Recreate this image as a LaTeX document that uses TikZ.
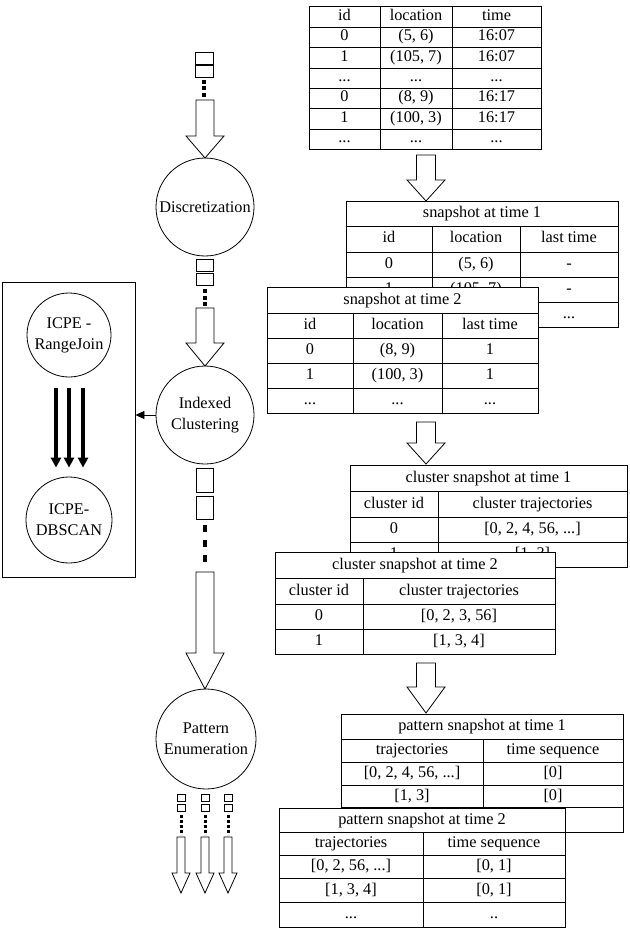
\documentclass[tikz,border=0pt]{standalone}
\usepackage{fontspec}
\setmainfont{Liberation Serif}
\usetikzlibrary{arrows.meta}
\tikzset{
  tline/.style={line width=0.8pt},
  cell/.style={inner sep=0pt, text height=11.5pt, text depth=3.5pt, font=\fontsize{16.3pt}{19pt}\selectfont},
  blk/.style={draw, fill=white, line width=0.8pt, line join=miter},
  proc/.style={draw, circle, line width=0.8pt, align=center, inner sep=0pt, font=\fontsize{16.3pt}{21pt}\selectfont},
  bigarr/.style={line width=4pt, -{Triangle[length=10pt,width=10pt]}},
  tabfill/.style={fill=white, draw, line width=0.8pt}
}
\newcommand{\myblockarrow}[6]{%
  \draw[blk] (#1-#5,#2) -- (#1+#5,#2) -- (#1+#5,#3) -- (#1+#6,#3) -- (#1,#4) -- (#1-#6,#3) -- (#1-#5,#3) -- cycle;}
\newcommand{\mydots}{...}
\newcommand{\mytwodots}{..}
\begin{document}
\begin{tikzpicture}[x=1pt,y=-1pt]
\useasboundingbox (0,0) rectangle (629,933);

% ---------------- left column ----------------
\draw[tline] (195,52) rectangle (213,64);
\draw[tline] (195,65) rectangle (213,77);
\draw[line width=4pt, dash pattern=on 4pt off 2.5pt] (204,80) -- (204,98);
\myblockarrow{205}{100}{136}{158}{9}{19}
\node[proc, minimum size=98pt] (disc) at (205,207) {Discretization};

\draw[tline] (196,259) rectangle (213,271);
\draw[tline] (196,273) rectangle (213,285);
\draw[line width=4pt, dash pattern=on 4pt off 2.5pt] (205,289) -- (205,306);
\myblockarrow{205}{308}{343}{366}{9}{19}
\node[proc, minimum size=98pt] (ic) at (205,415) {Indexed\\Clustering};

\draw[tline] (196,468) rectangle (213,492);
\draw[tline] (196,496) rectangle (213,519);
\draw[line width=4.5pt, dash pattern=on 7pt off 8pt] (205,525) -- (205,565);
\myblockarrow{205}{572}{653}{689}{9}{19}
\node[proc, minimum size=100pt] (pe) at (206,739) {Pattern\\Enumeration};

\foreach \xx in {181,205,228}{
  \draw[tline] (\xx-4,794) rectangle (\xx+4,801);
  \draw[tline] (\xx-4,804) rectangle (\xx+4,811);
  \draw[line width=3pt, dash pattern=on 3pt off 2pt] (\xx,815) -- (\xx,835);
  \myblockarrow{\xx}{837}{873}{893}{4}{9}
}

% ---------------- left box ----------------
\node[draw, tline, minimum width=133pt, minimum height=295pt, inner sep=0pt] (box) at (68.5,429.5) {};
\node[proc, minimum size=84pt] (rj) at (69,335) {ICPE -\\RangeJoin};
\node[proc, minimum size=86pt] (db) at (69,520) {ICPE-\\DBSCAN};
\foreach \dx in {-13,0,14}{
  \draw[bigarr] ([xshift=\dx pt, yshift=-11pt]rj.south) -- ([xshift=\dx pt, yshift=9pt]db.north);
}
\draw[tline, -{Triangle[length=9pt,width=8pt]}] (ic.west) -- (ic.west -| box.east);

% ---------------- table T0 ----------------
\draw[tabfill] (309,6) rectangle (541,149);
\foreach \yy in {27,47,68,88,108,129} \draw[tline] (309,\yy) -- (541,\yy);
\foreach \xx in {380,452} \draw[tline] (\xx,6) -- (\xx,149);
\foreach \yc/\a/\b/\c [count=\i] in {16.5/id/location/time, 37/0/{(5, 6)}/16:07, 57.5/1/{(105, 7)}/16:07, 78/\mydots/\mydots/\mydots, 98/0/{(8, 9)}/16:17, 118.5/1/{(100, 3)}/16:17, 139/\mydots/\mydots/\mydots}{
  \node[cell] (t0-\i-1) at (344.5,\yc) {\a};
  \node[cell] (t0-\i-2) at (416,\yc) {\b};
  \node[cell] (t0-\i-3) at (496.5,\yc) {\c};
}
\myblockarrow{426}{155}{180}{201}{9.5}{19}

% ---------------- snapshot 1 ----------------
\draw[tabfill] (346,201) rectangle (618,327);
\foreach \yy in {226,252,277,302} \draw[tline] (346,\yy) -- (618,\yy);
\foreach \xx in {432,520} \draw[tline] (\xx,226) -- (\xx,327);
\node[cell] (s1-h) at (482,213.5) {snapshot at time 1};
\foreach \yc/\a/\b/\c [count=\i] in {239/id/location/last time, 264.5/0/{(5, 6)}/-, 289.5/1/{(105, 7)}/-, 314.5/\mydots/\mydots/\mydots}{
  \node[cell] (s1-\i-1) at (389,\yc) {\a};
  \node[cell] (s1-\i-2) at (476,\yc) {\b};
  \node[cell] (s1-\i-3) at (569,\yc) {\c};
}
% ---------------- snapshot 2 ----------------
\draw[tabfill] (267,287) rectangle (538,413);
\foreach \yy in {313,338,363,388} \draw[tline] (267,\yy) -- (538,\yy);
\foreach \xx in {353,442} \draw[tline] (\xx,313) -- (\xx,413);
\node[cell] (s2-h) at (402.5,300) {snapshot at time 2};
\foreach \yc/\a/\b/\c [count=\i] in {325.5/id/location/last time, 350.5/0/{(8, 9)}/1, 375.5/1/{(100, 3)}/1, 400.5/\mydots/\mydots/\mydots}{
  \node[cell] (s2-\i-1) at (310,\yc) {\a};
  \node[cell] (s2-\i-2) at (397.5,\yc) {\b};
  \node[cell] (s2-\i-3) at (490,\yc) {\c};
}
\myblockarrow{426}{422}{443}{464}{9.5}{19}

% ---------------- cluster 1 ----------------
\draw[tabfill] (350,465) rectangle (627,567);
\foreach \yy in {491,517,542} \draw[tline] (350,\yy) -- (627,\yy);
\draw[tline] (438,491) -- (438,567);
\node[cell] (c1-h) at (488.5,478) {cluster snapshot at time 1};
\foreach \yc/\a/\b [count=\i] in {504/cluster id/cluster trajectories, 529.5/0/{[0, 2, 4, 56, \mydots]}, 554.5/1/{[1, 3]}}{
  \node[cell] (c1-\i-1) at (394,\yc) {\a};
  \node[cell] (c1-\i-2) at (532.5,\yc) {\b};
}
% ---------------- cluster 2 ----------------
\draw[tabfill] (275,552) rectangle (555,654);
\foreach \yy in {578,604,629} \draw[tline] (275,\yy) -- (555,\yy);
\draw[tline] (363,578) -- (363,654);
\node[cell] (c2-h) at (415,565) {cluster snapshot at time 2};
\foreach \yc/\a/\b [count=\i] in {591/cluster id/cluster trajectories, 616.5/0/{[0, 2, 3, 56]}, 641.5/1/{[1, 3, 4]}}{
  \node[cell] (c2-\i-1) at (319,\yc) {\a};
  \node[cell] (c2-\i-2) at (459,\yc) {\b};
}
\myblockarrow{426}{663}{687}{713}{9.5}{19}

% ---------------- pattern 1 ----------------
\draw[tabfill] (341,714) rectangle (623,832);
\foreach \yy in {739,762,785,807} \draw[tline] (341,\yy) -- (623,\yy);
\draw[tline] (483,739) -- (483,832);
\node[cell] (p1-h) at (482,726.5) {pattern snapshot at time 1};
\foreach \yc/\a/\b [count=\i] in {750.5/trajectories/time sequence, 773.5/{[0, 2, 4, 56, \mydots]}/{[0]}, 796/{[1, 3]}/{[0]}}{
  \node[cell] (p1-\i-1) at (412,\yc) {\a};
  \node[cell] (p1-\i-2) at (553,\yc) {\b};
}
% ---------------- pattern 2 ----------------
\draw[tabfill] (279,808) rectangle (565,927);
\foreach \yy in {832,855,878,902} \draw[tline] (279,\yy) -- (565,\yy);
\draw[tline] (423,832) -- (423,927);
\node[cell] (p2-h) at (422,820) {pattern snapshot at time 2};
\foreach \yc/\a/\b [count=\i] in {843.5/trajectories/time sequence, 866.5/{[0, 2, 56, \mydots]}/{[0, 1]}, 890/{[1, 3, 4]}/{[0, 1]}, 914.5/\mydots/\mytwodots}{
  \node[cell] (p2-\i-1) at (351,\yc) {\a};
  \node[cell] (p2-\i-2) at (494,\yc) {\b};
}
\end{tikzpicture}
\end{document}
